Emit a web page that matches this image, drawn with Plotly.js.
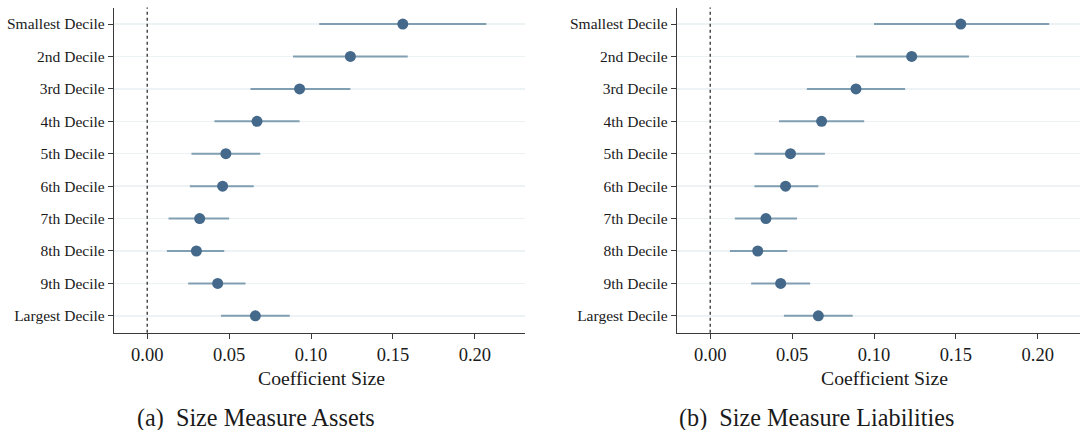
<!DOCTYPE html>
<html>
<head>
<meta charset="utf-8">
<script src="https://cdn.plot.ly/plotly-3.0.1.min.js"></script>
<style>html,body{margin:0;padding:0;background:#fff;}#chart{width:1080px;height:430px;}</style>
</head>
<body>
<div id="chart"></div>
<script>
const categories = ["Smallest Decile","2nd Decile","3rd Decile","4th Decile","5th Decile","6th Decile","7th Decile","8th Decile","9th Decile","Largest Decile"];

const assetsCoef = [0.156, 0.124, 0.093, 0.067, 0.048, 0.046, 0.032, 0.030, 0.043, 0.066];
const assetsLow  = [0.105, 0.089, 0.063, 0.041, 0.027, 0.026, 0.013, 0.012, 0.025, 0.045];
const assetsHigh = [0.207, 0.159, 0.124, 0.093, 0.069, 0.065, 0.050, 0.047, 0.060, 0.087];

const liabCoef = [0.153, 0.123, 0.089, 0.068, 0.049, 0.046, 0.034, 0.029, 0.043, 0.066];
const liabLow  = [0.100, 0.089, 0.059, 0.042, 0.027, 0.027, 0.015, 0.012, 0.025, 0.045];
const liabHigh = [0.207, 0.158, 0.119, 0.094, 0.070, 0.066, 0.053, 0.047, 0.061, 0.087];

const xTickVals = [0, 0.05, 0.10, 0.15, 0.20];
const xTickText = ["0.00", "0.05", "0.10", "0.15", "0.20"];

const panelCaptions = ["(a)&nbsp;&nbsp;Size Measure Assets", "(b)&nbsp;&nbsp;Size Measure Liabilities"];
const xTitle = "Coefficient Size";

const FONT = "Liberation Serif";
const markerColor = "#44698b";
const ciColor = "#819fb2";

function makeTrace(coef, lo, hi, xa, ya) {
  return {
    type: "scatter", mode: "markers",
    x: coef, y: categories, xaxis: xa, yaxis: ya,
    marker: {color: markerColor, size: 11},
    error_x: {
      type: "data", symmetric: false,
      array: coef.map((v, i) => hi[i] - v),
      arrayminus: coef.map((v, i) => v - lo[i]),
      color: ciColor, thickness: 2, width: 0
    },
    hoverinfo: "skip", showlegend: false
  };
}

const data = [
  makeTrace(assetsCoef, assetsLow, assetsHigh, "x", "y"),
  makeTrace(liabCoef, liabLow, liabHigh, "x2", "y2")
];

const yTop = 1 - 7.5/430, yBot = 1 - 332.7/430;

function xax(domain, range) {
  return {
    domain: domain, range: range, showgrid: false, zeroline: false,
    showline: true, linecolor: "#3a3a3a", linewidth: 1.2,
    ticks: "outside", ticklen: 5, tickwidth: 1, tickcolor: "#3a3a3a",
    tickvals: xTickVals, ticktext: xTickText,
    tickfont: {family: FONT, size: 18.5, color: "#1a1a1a"}, fixedrange: true
  };
}
function yax(anchor) {
  return {
    domain: [yBot, yTop], anchor: anchor, type: "category",
    categoryorder: "array", categoryarray: categories,
    range: [9.52, -0.51], showgrid: true, gridcolor: "#edf2f4", gridwidth: 1.5,
    zeroline: false, showline: true, linecolor: "#3a3a3a", linewidth: 1.2,
    ticks: "outside", ticklen: 5, tickwidth: 1, tickcolor: "#3a3a3a",
    tickfont: {family: FONT, size: 15.5, color: "#1a1a1a"}, fixedrange: true
  };
}

const layout = {
  width: 1080, height: 430,
  margin: {l: 0, r: 0, t: 0, b: 0},
  font: {family: FONT},
  paper_bgcolor: "#ffffff", plot_bgcolor: "#ffffff",
  xaxis: Object.assign(xax([114/1080, 525/1080], [-0.0203, 0.2306]), {anchor: "y"}),
  yaxis: yax("x"),
  xaxis2: Object.assign(xax([677/1080, 1], [-0.0203, 0.2258]), {anchor: "y2"}),
  yaxis2: yax("x2"),
  shapes: [
    {type: "line", xref: "x", yref: "y domain", x0: 0, x1: 0, y0: 0, y1: 1,
     line: {color: "#4a4a4a", width: 1.5, dash: "dot"}},
    {type: "line", xref: "x2", yref: "y2 domain", x0: 0, x1: 0, y0: 0, y1: 1,
     line: {color: "#4a4a4a", width: 1.5, dash: "dot"}}
  ],
  annotations: [
    {text: xTitle, xref: "paper", yref: "paper", x: 321.5/1080, y: 1 - 377.7/430,
     xanchor: "center", yanchor: "middle", showarrow: false,
     font: {family: FONT, size: 19.7, color: "#1a1a1a"}},
    {text: xTitle, xref: "paper", yref: "paper", x: 884.5/1080, y: 1 - 377.7/430,
     xanchor: "center", yanchor: "middle", showarrow: false,
     font: {family: FONT, size: 19.7, color: "#1a1a1a"}},
    {text: panelCaptions[0], xref: "paper", yref: "paper", x: 256/1080, y: 1 - 417.7/430,
     xanchor: "center", yanchor: "middle", showarrow: false,
     font: {family: FONT, size: 24.2, color: "#1a1a1a"}},
    {text: panelCaptions[1], xref: "paper", yref: "paper", x: 816/1080, y: 1 - 417.7/430,
     xanchor: "center", yanchor: "middle", showarrow: false,
     font: {family: FONT, size: 24.2, color: "#1a1a1a"}}
  ]
};

Plotly.newPlot("chart", data, layout, {displayModeBar: false, staticPlot: true});
</script>
</body>
</html>
